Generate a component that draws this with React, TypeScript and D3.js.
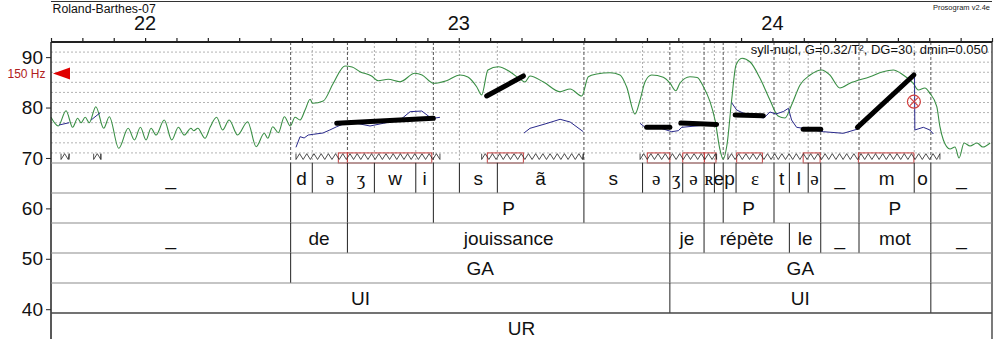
import React, { useEffect, useRef } from "react";
import * as d3 from "d3";

// time (s) and semitone scales
const timeDomain = [21.7, 24.7];
const stDomain = [69, 93];
const stTicks = [40, 50, 60, 70, 80, 90];
const secondLabels = [22, 23, 24];
const gridSt = [71, 73, 75, 77, 79, 81, 83, 85, 87, 89, 91];
const refLabel = "150 Hz";
const refSt = 86.74;
const fileName = "Roland-Barthes-07";
const versionLabel = "Prosogram v2.4e";
const paramLabel = "syll-nucl, G=0.32/T², DG=30, dmin=0.050";

// green curve (intensity), [time, ST]
const greenCurve: [number, number][] = [
  [21.700, 78.06], [21.723, 76.34], [21.748, 79.37], [21.769, 76.08], [21.785, 77.87], [21.796, 76.99],
  [21.809, 78.06], [21.822, 76.99], [21.843, 80.17], [21.868, 75.88], [21.886, 78.18], [21.916, 71.92],
  [21.946, 75.88], [21.966, 73.56], [21.985, 76.08], [22.003, 73.56], [22.019, 75.88], [22.035, 74.55],
  [22.061, 77.53], [22.085, 73.56], [22.106, 76.08], [22.125, 74.55], [22.146, 75.88], [22.155, 75.4],
  [22.168, 75.88], [22.191, 73.9], [22.208, 76.2], [22.228, 78.06], [22.247, 75.55], [22.268, 77.53],
  [22.295, 74.55], [22.327, 77.19], [22.354, 72.23], [22.380, 74.89], [22.391, 73.9], [22.407, 76.2],
  [22.425, 75.01], [22.444, 78.18], [22.463, 76.34], [22.478, 78.06], [22.494, 77.53], [22.510, 79.51],
  [22.526, 81.63], [22.534, 80.84], [22.568, 81.3], [22.600, 84.81], [22.637, 88.24], [22.660, 88.04],
  [22.685, 87.11], [22.722, 86.26], [22.743, 85.32], [22.775, 85.6], [22.813, 85.13], [22.860, 86.79],
  [22.883, 86.45], [22.919, 84.81], [22.961, 85.32], [23.004, 86.45], [23.029, 86.06], [23.057, 84.13],
  [23.073, 82.49], [23.093, 87.45], [23.126, 88.1], [23.163, 87.11], [23.195, 85.66], [23.211, 85.07],
  [23.227, 86.26], [23.270, 85.07], [23.323, 83.14], [23.355, 83.68], [23.392, 82.29], [23.413, 86.12],
  [23.440, 86.65], [23.482, 86.91], [23.514, 86.45], [23.535, 84.13], [23.562, 78.72], [23.578, 81.5],
  [23.594, 85.13], [23.615, 86.45], [23.652, 86.0], [23.673, 84.87], [23.692, 83.34], [23.705, 84.81],
  [23.737, 86.12], [23.760, 85.96], [23.780, 84.13], [23.801, 81.16], [23.817, 77.53], [23.833, 71.58],
  [23.843, 69.79], [23.855, 72.57], [23.870, 81.5], [23.884, 88.44], [23.903, 89.77], [23.929, 89.03],
  [23.960, 85.86], [23.992, 81.5], [24.018, 78.32], [24.040, 77.93], [24.061, 80.5], [24.088, 84.47],
  [24.120, 86.45], [24.157, 87.45], [24.183, 86.45], [24.215, 83.88], [24.247, 84.81], [24.311, 86.12],
  [24.353, 87.11], [24.385, 87.45], [24.417, 86.45], [24.449, 84.81], [24.465, 83.48], [24.486, 83.88],
  [24.502, 82.82], [24.524, 80.17], [24.534, 76.2], [24.545, 73.56], [24.566, 71.78], [24.582, 72.17],
  [24.595, 69.99], [24.611, 72.97], [24.630, 72.37], [24.652, 72.97], [24.671, 72.17], [24.694, 72.97],
];

// blue curve (F0), separate voiced pieces
const blueSegments: [number, number][][] = [
  [[21.726, 76.54], [21.758, 76.99]],
  [[21.828, 77.53], [21.857, 78.98]],
  [[22.481, 72.11], [22.494, 74.22], [22.507, 73.96], [22.520, 74.55], [22.536, 74.69], [22.567, 74.95],
   [22.589, 75.55], [22.611, 76.2], [22.632, 76.74], [22.675, 76.87], [22.717, 76.34], [22.759, 76.87],
   [22.813, 77.53], [22.845, 79.18], [22.882, 79.31], [22.903, 78.32], [22.919, 77.87], [22.940, 78.06]],
  [[23.208, 74.95], [23.227, 75.88], [23.275, 76.74], [23.323, 77.67], [23.355, 77.13], [23.397, 75.21]],
  [[23.578, 76.87], [23.594, 76.08], [23.642, 75.94], [23.679, 75.21], [23.700, 75.41], [23.711, 76.08],
   [23.790, 76.54], [23.822, 76.54]],
  [[23.870, 80.96], [23.886, 79.51], [23.913, 78.72], [23.960, 78.06], [23.973, 77.93], [23.992, 79.12],
   [24.011, 78.72], [24.035, 79.21], [24.051, 79.85], [24.061, 77.53], [24.077, 76.08], [24.120, 75.68],
   [24.162, 75.21], [24.226, 74.89], [24.269, 75.68], [24.453, 86.45], [24.454, 75.55], [24.481, 76.08],
   [24.502, 75.55], [24.513, 74.75]],
];

// stylised pitch: [t0, st0, t1, st1]
const stylization: [number, number, number, number][] = [
  [22.611, 76.87, 22.919, 77.87],
  [23.089, 82.29, 23.206, 86.26],
  [23.599, 76.08, 23.673, 76.08],
  [23.708, 76.93, 23.822, 76.64],
  [23.881, 78.52, 23.971, 78.38],
  [24.098, 75.68, 24.154, 75.68],
  [24.271, 76.08, 24.451, 86.45],
];

const clippedMark: [number, number] = [24.451, 81.16];

const nuclei: [number, number][] = [
  [22.616, 22.645], [22.645, 22.914], [23.091, 23.206], [23.601, 23.673], [23.714, 23.783],
  [23.783, 23.820], [23.886, 23.968], [24.098, 24.152], [24.274, 24.451],
];

const voiced: [number, number][] = [
  [21.732, 21.758], [21.836, 21.859], [22.481, 22.940], [23.073, 23.397], [23.578, 23.822], [23.858, 24.534],
];

// annotation tiers: [label, start, end]
const phones: [string, number, number][] = [
  ["_", 21.7, 22.464], ["d", 22.464, 22.533], ["ə", 22.533, 22.645], ["ʒ", 22.645, 22.731],
  ["w", 22.731, 22.863], ["i", 22.863, 22.919], ["", 22.919, 23.002], ["s", 23.002, 23.123],
  ["ã", 23.123, 23.399], ["s", 23.399, 23.586], ["ə", 23.586, 23.673], ["ʒ", 23.673, 23.714],
  ["ə", 23.714, 23.782], ["ʀ", 23.782, 23.815], ["e", 23.815, 23.843], ["p", 23.843, 23.884],
  ["ɛ", 23.884, 24.005], ["t", 24.005, 24.054], ["l", 24.054, 24.114], ["ə", 24.114, 24.154],
  ["_", 24.154, 24.276], ["m", 24.276, 24.452], ["o", 24.452, 24.505], ["_", 24.505, 24.7],
];
const syllables: [string, number, number][] = [
  ["", 21.7, 22.464], ["", 22.464, 22.645], ["", 22.645, 22.919], ["P", 22.919, 23.399],
  ["", 23.399, 23.673], ["", 23.673, 23.782], ["", 23.782, 23.843], ["P", 23.843, 24.005],
  ["", 24.005, 24.154], ["", 24.154, 24.276], ["P", 24.276, 24.505], ["", 24.505, 24.7],
];
const words: [string, number, number][] = [
  ["_", 21.7, 22.464], ["de", 22.464, 22.645], ["jouissance", 22.645, 23.673], ["je", 23.673, 23.782],
  ["répète", 23.782, 24.054], ["le", 24.054, 24.154], ["_", 24.154, 24.276], ["mot", 24.276, 24.505],
  ["_", 24.505, 24.7],
];
const groups: [string, number, number][] = [
  ["", 21.7, 22.464], ["GA", 22.464, 23.673], ["GA", 23.673, 24.505], ["", 24.505, 24.7],
];
const units: [string, number, number][] = [
  ["UI", 21.7, 23.673], ["UI", 23.673, 24.505], ["", 24.505, 24.7],
];
const turns: [string, number, number][] = [["UR", 21.7, 24.7]];

const SANS = "'Liberation Sans', Arial, Helvetica, sans-serif";
const SERIF = "'Liberation Serif', 'DejaVu Serif', serif";
const IPA = "əʒʀɛ";

export default function App() {
  const svgRef = useRef<SVGSVGElement>(null);

  useEffect(() => {
    document.body.style.margin = "0";
    const svg = d3.select(svgRef.current);
    svg.selectAll("*").remove();

    const left = 51, right = 992, top = 42, bottom = 163, rowH = 30, H = 339;
    const x = d3.scaleLinear().domain(timeDomain).range([left, right]);
    const y = d3.scaleLinear().domain(stDomain).range([bottom, top]);

    svg.append("rect").attr("width", 1003).attr("height", H).attr("fill", "#fff");

    // header
    svg.append("line").attr("x1", left).attr("x2", right).attr("y1", 1.5).attr("y2", 1.5)
      .attr("stroke", "#333").attr("stroke-width", 1.2);
    svg.append("text").attr("x", 52.5).attr("y", 12.5).attr("font-family", SANS).attr("font-size", 12.3)
      .attr("fill", "#111").text(fileName);
    svg.append("text").attr("x", 990).attr("y", 9.5).attr("text-anchor", "end").attr("font-family", SANS)
      .attr("font-size", 7.5).attr("fill", "#222").text(versionLabel);
    svg.selectAll(".sec").data(secondLabels).join("text")
      .attr("x", d => x(d)).attr("y", 30).attr("text-anchor", "middle")
      .attr("font-family", SANS).attr("font-size", 20).attr("fill", "#111").text(d => d);

    // gridlines
    svg.selectAll(".grid").data(gridSt).join("line")
      .attr("x1", left).attr("x2", right).attr("y1", d => y(d)).attr("y2", d => y(d))
      .attr("stroke", "#b4b4b4").attr("stroke-dasharray", "2,2");

    // boundaries in pitch area
    const sylBounds = new Set(syllables.map(s => s[1]));
    const phoneBounds = phones.slice(1).map(p => p[1]);
    svg.selectAll(".pb").data(phoneBounds).join("line")
      .attr("x1", d => x(d)).attr("x2", d => x(d)).attr("y1", top).attr("y2", bottom)
      .attr("stroke", d => (sylBounds.has(d) ? "#555" : "#aaa"))
      .attr("stroke-dasharray", d => (sylBounds.has(d) ? "3,2" : "2,2"));

    // nuclei
    svg.selectAll(".nuc").data(nuclei).join("rect")
      .attr("x", d => x(d[0])).attr("width", d => x(d[1]) - x(d[0]))
      .attr("y", y(71)).attr("height", y(69) - y(71))
      .attr("fill", "none").attr("stroke", "#c84040").attr("stroke-width", 1);

    // voiced zigzags
    const zTop = y(70.85), zBot = y(69.7);
    const zig = (d: [number, number]) => {
      const x0 = x(d[0]), x1 = x(d[1]);
      const pts: [number, number][] = [[x0, zTop], [x0, zBot]];
      let up = true;
      for (let xx = x0 + 3.6; xx < x1; xx += 3.6) {
        pts.push([xx, up ? zTop : zBot]);
        up = !up;
      }
      pts.push([x1, up ? zTop : zBot]);
      pts.push([x1, up ? zBot : zTop]);
      return d3.line()(pts);
    };
    svg.selectAll(".zz").data(voiced).join("path")
      .attr("d", d => zig(d)).attr("fill", "none").attr("stroke", "#222").attr("stroke-width", 0.8);

    // curves
    const line = d3.line<[number, number]>().x(d => x(d[0])).y(d => y(d[1]));
    svg.append("path").datum(greenCurve)
      .attr("d", line.curve(d3.curveMonotoneX)(greenCurve) as string)
      .attr("fill", "none").attr("stroke", "#3a8f45").attr("stroke-width", 1.1);
    const blueLine = d3.line<[number, number]>().x(d => x(d[0])).y(d => y(d[1]));
    svg.selectAll(".blue").data(blueSegments).join("path")
      .attr("d", d => blueLine(d) as string)
      .attr("fill", "none").attr("stroke", "#2a2a8c").attr("stroke-width", 1);

    svg.selectAll(".sty").data(stylization).join("line")
      .attr("x1", d => x(d[0])).attr("y1", d => y(d[1])).attr("x2", d => x(d[2])).attr("y2", d => y(d[3]))
      .attr("stroke", "#000").attr("stroke-width", 5).attr("stroke-linecap", "round");

    const cx = x(clippedMark[0]), cy = y(clippedMark[1]);
    svg.append("circle").attr("cx", cx).attr("cy", cy).attr("r", 6.5)
      .attr("fill", "none").attr("stroke", "#d04040").attr("stroke-width", 1.2);
    svg.append("path").attr("d", `M${cx - 4},${cy - 4}L${cx + 4},${cy + 4}M${cx + 4},${cy - 4}L${cx - 4},${cy + 4}`)
      .attr("stroke", "#d04040").attr("stroke-width", 1.2);

    // axes
    const topAxis = svg.append("g").attr("transform", `translate(0,${top})`)
      .call(d3.axisTop(x).tickValues(d3.range(0, 31).map(i => timeDomain[0] + i * 0.1)).tickSize(4).tickFormat(() => ""));
    topAxis.select(".domain").remove();
    topAxis.selectAll("line").attr("stroke", "#222").attr("stroke-width", 1.2);
    svg.append("line").attr("x1", left).attr("x2", right).attr("y1", top).attr("y2", top)
      .attr("stroke", "#222").attr("stroke-width", 2);

    const yAxis = svg.append("g").attr("transform", `translate(${left},0)`)
      .call(d3.axisLeft(y).tickValues(stTicks).tickSize(5).tickPadding(3));
    yAxis.select(".domain").remove();
    yAxis.selectAll("text").attr("font-family", SANS).attr("font-size", 19).attr("fill", "#111");
    yAxis.selectAll("line").attr("stroke", "#222");

    svg.append("line").attr("x1", left).attr("x2", left).attr("y1", top).attr("y2", H)
      .attr("stroke", "#222").attr("stroke-width", 1.5);
    svg.append("line").attr("x1", right).attr("x2", right).attr("y1", top).attr("y2", H)
      .attr("stroke", "#222").attr("stroke-width", 1.2);

    // 150 Hz marker
    const ry = y(refSt);
    svg.append("path").attr("d", `M${left + 2},${ry}L${left + 19},${ry - 6}L${left + 19},${ry + 6}Z`).attr("fill", "#e00000");
    svg.append("text").attr("x", 45.5).attr("y", ry + 4.3).attr("text-anchor", "end")
      .attr("font-family", SANS).attr("font-size", 12).attr("fill", "#b02020").text(refLabel);

    svg.append("text").attr("x", 988).attr("y", 54).attr("text-anchor", "end")
      .attr("font-family", SANS).attr("font-size", 13).attr("fill", "#111").text(paramLabel);

    // tiers
    const tiers = [phones, syllables, words, groups, units, turns];
    tiers.forEach((tier, i) => {
      const y0 = bottom + i * rowH;
      svg.append("line").attr("x1", left).attr("x2", right).attr("y1", y0).attr("y2", y0)
        .attr("stroke", "#8c8c8c").attr("stroke-width", 1.2);
      const g = svg.append("g");
      g.selectAll("line").data(tier.filter(d => d[1] > timeDomain[0])).join("line")
        .attr("x1", d => x(d[1])).attr("x2", d => x(d[1])).attr("y1", y0).attr("y2", Math.min(y0 + rowH, H))
        .attr("stroke", "#222").attr("stroke-width", 1);
      g.selectAll("text").data(tier).join("text")
        .attr("x", d => (x(d[1]) + x(d[2])) / 2).attr("y", y0 + 21.5).attr("text-anchor", "middle")
        .attr("font-family", d => (IPA.includes(d[0]) && d[0] ? SERIF : SANS))
        .attr("font-size", 19).attr("fill", "#111").text(d => d[0]);
    });
    svg.append("line").attr("x1", left).attr("x2", right).attr("y1", bottom + 5 * rowH).attr("y2", bottom + 5 * rowH)
      .attr("stroke", "#222").attr("stroke-width", 1.2);
  }, []);

  return (
    <div style={{ position: "absolute", left: 0, top: 0 }}>
      <svg ref={svgRef} width={1003} height={339} style={{ display: "block" }} />
    </div>
  );
}
